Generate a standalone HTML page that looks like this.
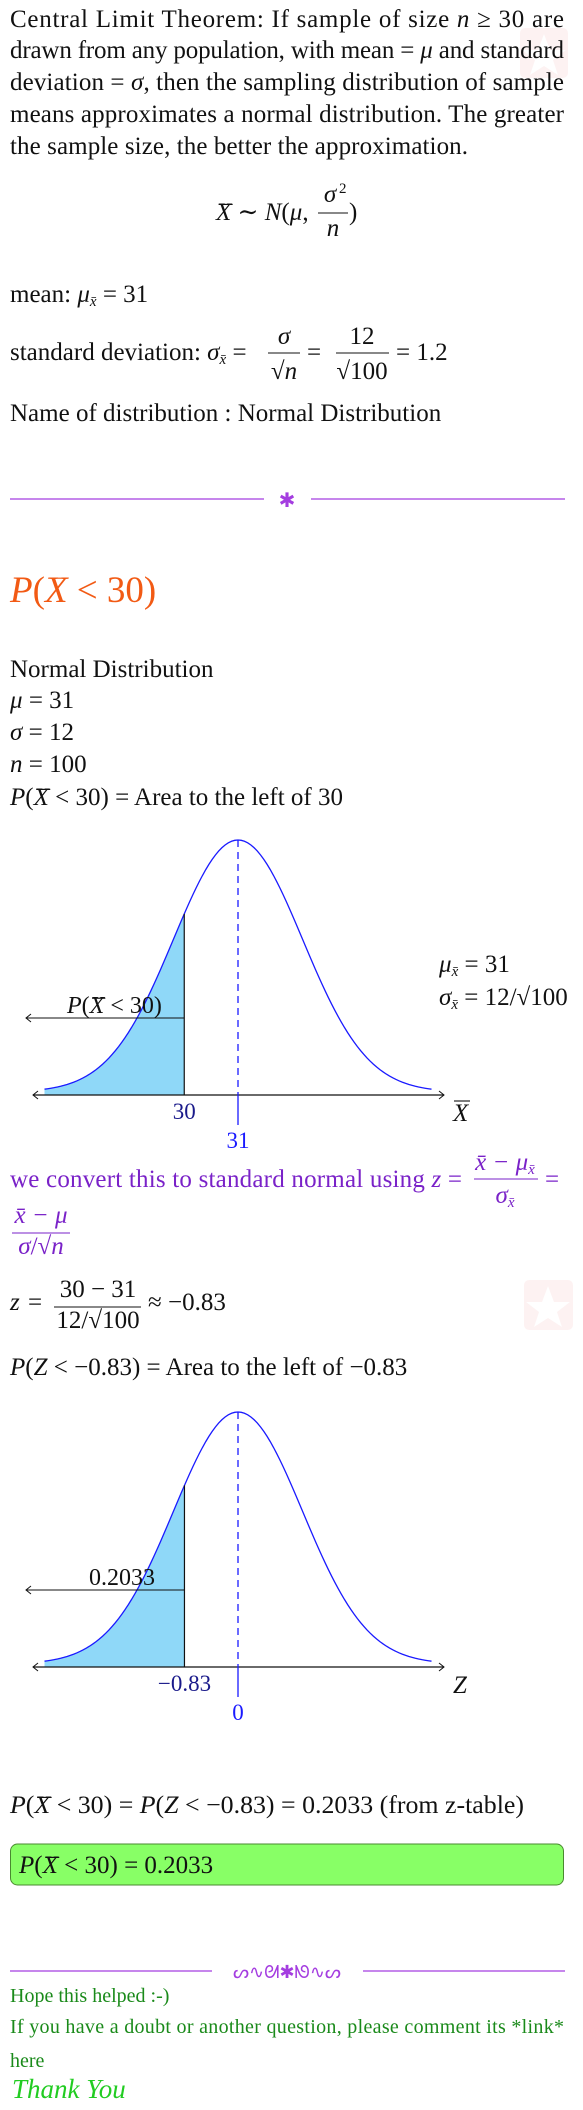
<!DOCTYPE html>
<html><head><meta charset="utf-8"><style>
html,body{margin:0;padding:0;background:#fff;}
svg{display:block;}
text{font-family:"Liberation Serif","DejaVu Serif",serif;}
.i{font-style:italic;}
</style></head><body>
<svg id="page" width="583" height="2110" viewBox="0 0 583 2110" xmlns="http://www.w3.org/2000/svg">
<g opacity="0.5">
<rect x="520" y="28" width="48" height="50" rx="5" fill="#fde6e6"/>
<polygon points="544,34 550,50 566,50 553,60 558,75 544,66 530,75 535,60 522,50 538,50" fill="#fff"/>
</g>
<g opacity="0.5">
<rect x="524" y="1280" width="49" height="50" rx="5" fill="#fde6e6"/>
<polygon points="548,1286 554,1302 570,1302 557,1312 562,1327 548,1318 534,1327 539,1312 526,1302 542,1302" fill="#fff"/>
</g>

<g font-size="25" fill="#111">
<text x="10" y="27" textLength="554" lengthAdjust="spacing">Central Limit Theorem:  If sample of size <tspan class="i">n</tspan> ≥ 30 are</text>
<text x="10" y="58" textLength="554" lengthAdjust="spacing">drawn from any population, with mean = <tspan class="i">μ</tspan> and standard</text>
<text x="10" y="90" textLength="554" lengthAdjust="spacing">deviation = <tspan class="i">σ</tspan>, then the sampling distribution of sample</text>
<text x="10" y="122" textLength="554" lengthAdjust="spacing">means approximates a normal distribution.  The greater</text>
<text x="10" y="154" textLength="458" lengthAdjust="spacing">the sample size, the better the approximation.</text>
</g>

<g font-size="25" fill="#111">
<text x="216" y="220"><tspan class="i ob">X</tspan> ∼ <tspan class="i">N</tspan>(<tspan class="i">μ</tspan>,</text>
<text x="330" y="202" class="i" text-anchor="middle">σ</text><text x="339" y="193" font-size="15">2</text>
<line x1="318" y1="213" x2="348" y2="213" stroke="#111" stroke-width="1"/>
<text x="333" y="236" class="i" text-anchor="middle">n</text>
<text x="349" y="220">)</text>
</g>

<g font-size="25" fill="#111">
<text x="10" y="302">mean:  <tspan class="i">μ</tspan><tspan class="i" font-size="15" dy="4">x̄</tspan><tspan dy="-4"> = 31</tspan></text>
</g>
<g font-size="25" fill="#111">
<text x="10" y="360">standard deviation:  <tspan class="i">σ</tspan><tspan class="i" font-size="15" dy="4">x̄</tspan><tspan dy="-4"> =</tspan></text>
<text x="284" y="344" class="i" text-anchor="middle">σ</text>
<line x1="268" y1="353" x2="300" y2="353" stroke="#111" stroke-width="1"/>
<text x="284" y="379" text-anchor="middle">√<tspan class="i">n</tspan></text>
<text x="307" y="360">=</text>
<text x="362" y="344" text-anchor="middle">12</text>
<line x1="336" y1="353" x2="389" y2="353" stroke="#111" stroke-width="1"/>
<text x="362" y="379" text-anchor="middle">√100</text>
<text x="396" y="360">= 1.2</text>
</g>
<text x="10" y="421" font-size="25" fill="#111">Name of distribution : Normal Distribution</text>

<g>
<line x1="10" y1="499" x2="264" y2="499" stroke="#a43de0" stroke-width="1.3"/>
<line x1="311" y1="499" x2="565" y2="499" stroke="#a43de0" stroke-width="1.3"/>
<text x="287" y="507" font-size="20" fill="#a43de0" text-anchor="middle">✱</text>
</g>

<text x="10" y="602" font-size="37" fill="#f25a14" data-ob="#f25a14"><tspan class="i">P</tspan>(<tspan class="i ob">X</tspan> &lt; 30)</text>

<g font-size="25" fill="#111">
<text x="10" y="677">Normal Distribution</text>
<text x="10" y="708"><tspan class="i">μ</tspan> = 31</text>
<text x="10" y="740"><tspan class="i">σ</tspan> = 12</text>
<text x="10" y="772"><tspan class="i">n</tspan> = 100</text>
<text x="10" y="805"><tspan class="i">P</tspan>(<tspan class="i ob">X</tspan> &lt; 30) = Area to the left of 30</text>
</g>

<g id="chart1"></g>

<g font-size="25" fill="#7a22c8">
<text x="10" y="1187" textLength="452" lengthAdjust="spacing">we convert this to standard normal using <tspan class="i">z</tspan> =</text>
<text x="505" y="1170" class="i" text-anchor="middle">x̄ − μ<tspan font-size="15" dy="4">x̄</tspan></text>
<line x1="474" y1="1179" x2="538" y2="1179" stroke="#7a22c8" stroke-width="1"/>
<text x="505" y="1203" class="i" text-anchor="middle">σ<tspan font-size="15" dy="4">x̄</tspan></text>
<text x="545" y="1187">=</text>
<text x="41" y="1223" class="i" text-anchor="middle">x̄ − μ</text>
<line x1="12" y1="1233" x2="70" y2="1233" stroke="#7a22c8" stroke-width="1"/>
<text x="41" y="1254" text-anchor="middle"><tspan class="i">σ</tspan>/√<tspan class="i">n</tspan></text>
</g>

<g font-size="25" fill="#111">
<text x="10" y="1310" class="i">z</text><text x="28" y="1310">=</text>
<text x="98" y="1297" text-anchor="middle">30 − 31</text>
<line x1="54" y1="1307" x2="141" y2="1307" stroke="#111" stroke-width="1"/>
<text x="98" y="1328" text-anchor="middle">12/√100</text>
<text x="148" y="1310">≈ −0.83</text>
</g>
<text x="10" y="1375" font-size="25" fill="#111"><tspan class="i">P</tspan>(<tspan class="i">Z</tspan> &lt; −0.83) = Area to the left of −0.83</text>

<g id="chart2"></g>

<g font-size="25" fill="#111">
<text x="10" y="1813" textLength="514" lengthAdjust="spacingAndGlyphs"><tspan class="i">P</tspan>(<tspan class="i ob">X</tspan> &lt; 30) = <tspan class="i">P</tspan>(<tspan class="i">Z</tspan> &lt; −0.83) = 0.2033 (from z-table)</text>
</g>
<g>
<rect x="10.5" y="1844" width="553" height="41" rx="7" fill="#88ff66" stroke="#4a8a30" stroke-width="1"/>
<text x="19" y="1873" font-size="25" fill="#111"><tspan class="i">P</tspan>(<tspan class="i ob">X</tspan> &lt; 30) = 0.2033</text>
</g>

<g>
<line x1="10" y1="1971" x2="212" y2="1971" stroke="#a43de0" stroke-width="1.3"/>
<line x1="363" y1="1971" x2="565" y2="1971" stroke="#a43de0" stroke-width="1.3"/>
<text x="287" y="1978" font-size="18" fill="#a43de0" text-anchor="middle">ᔕ∿ᘛ✱ᘚ∿ᔕ</text>
</g>
<g fill="#1a8a1a" font-size="20">
<text x="10" y="2002">Hope this helped  :-)</text>
<text x="10" y="2033" textLength="554" lengthAdjust="spacing">If you have a doubt or another question, please comment its *link*</text>
<text x="10" y="2067">here</text>
<text x="12" y="2098" font-size="27" class="i" fill="#22cc22">Thank You</text>
</g>
</svg>
<script>
// chart parameters
const chart1Params = [31, 1.2, 30];        // mean, sd, cutoff
const chart1Labels = ["30", "31"];
const chart2Params = [0, 1, -0.83];
const chart2Labels = ["−0.83", "0"];
const areaValues = ["0.2033"];

const NS = "http://www.w3.org/2000/svg";
function mk(tag, attrs, parent) {
  const e = document.createElementNS(NS, tag);
  for (const k in attrs) e.setAttribute(k, attrs[k]);
  parent.appendChild(e);
  return e;
}
function drawChart(g, params, labels, top, axisLabel, areaLabel) {
  const mean = params[0], sd = params[1], cut = params[2];
  const cx = 238, pxPerSd = 64.5, base = top + 252, h = 252;
  const xs = v => cx + (v - mean) / sd * pxPerSd;
  const ys = v => base - h * Math.exp(-0.5 * Math.pow((v - mean) / sd, 2));
  let pts = [];
  for (let i = 0; i <= 120; i++) {
    const v = mean - 3 * sd + i * 6 * sd / 120;
    pts.push([xs(v), ys(v)]);
  }
  let fill = [[xs(mean - 3 * sd), base + 3]];
  pts.forEach(p => { if (p[0] <= xs(cut)) fill.push(p); });
  fill.push([xs(cut), ys(cut)], [xs(cut), base + 3]);
  const area = mk("polygon", {points: fill.map(p => p.join(",")).join(" "), fill: "#8fd8f8"}, g);
  
  
  const curve = mk("polyline", {points: pts.map(p => p.join(",")).join(" "), fill: "none", stroke: "#1a1aff", "stroke-width": 1.3}, g);
  
  
  const cutLine = mk("line", {x1: xs(cut), y1: ys(cut), x2: xs(cut), y2: base + 3, stroke: "#111", "stroke-width": 1.2}, g);
  
  
  const ax = base + 3;
  const axis = mk("line", {x1: 33, y1: ax, x2: 444, y2: ax, stroke: "#111", "stroke-width": 1.2}, g);
  
  
  const arr = mk("path", {d: `M38,${ax-4} L33,${ax} L38,${ax+4} M439,${ax-4} L444,${ax} L439,${ax+4}`, fill: "none", stroke: "#111", "stroke-width": 1}, g);
  
  
  const dash = mk("line", {x1: xs(mean), y1: ys(mean), x2: xs(mean), y2: ax, stroke: "#1a1aff", "stroke-width": 1.3, "stroke-dasharray": "7,5"}, g);
  
  
  const tick = mk("line", {x1: xs(mean), y1: ax, x2: xs(mean), y2: ax + 30, stroke: "#1a1aff", "stroke-width": 1.3}, g);
  
  
  const ay = top + 178;
  const pArr = mk("path", {d: `M26,${ay} L${xs(cut)},${ay} M31,${ay-4} L26,${ay} L31,${ay+4}`, fill: "none", stroke: "#111", "stroke-width": 1}, g);
  
  
  const t1 = mk("text", {x: xs(cut), y: ax + 24, "font-size": 23, fill: "#1a1a8a", "text-anchor": "middle"}, g);
  t1.textContent = labels[0];
  
  
  const t2 = mk("text", {x: xs(mean), y: ax + 53, "font-size": 23, fill: "#1a1aff", "text-anchor": "middle"}, g);
  t2.textContent = labels[1];
  
  
  const t3 = mk("text", {x: 453, y: ax + 26, "font-size": 25, fill: "#111", "font-style": "italic"}, g);
  t3.textContent = axisLabel;
  
  
  if (axisLabel === "X") mk("line", {x1: 454, y1: ax + 6, x2: 470, y2: ax + 6, stroke: "#111", "stroke-width": 1.1}, g);
  const t4 = mk("text", {x: areaLabel.x, y: ay - 5, "font-size": 24, fill: "#111"}, g);
  t4.innerHTML = areaLabel.html;
  
  
}
const g1 = document.getElementById("chart1");
drawChart(g1, chart1Params, chart1Labels, 840, "X", {x: 67, html: '<tspan font-style="italic">P</tspan>(<tspan font-style="italic" class="ob">X</tspan> &lt; 30)'});
const sideLbl = mk("text", {x: 439, y: 972, "font-size": 25, fill: "#111"}, g1);
sideLbl.innerHTML = '<tspan font-style="italic">μ</tspan><tspan font-style="italic" font-size="15" dy="4">x̄</tspan><tspan dy="-4"> = 31</tspan>';


const sideLbl2 = mk("text", {x: 439, y: 1005, "font-size": 25, fill: "#111"}, g1);
sideLbl2.innerHTML = '<tspan font-style="italic">σ</tspan><tspan font-style="italic" font-size="15" dy="4">x̄</tspan><tspan dy="-4"> = 12/√100</tspan>';


const g2 = document.getElementById("chart2");
drawChart(g2, chart2Params, chart2Labels, 1412, "Z", {x: 89, html: areaValues[0]});

// overbars for X-bar symbols
const svg = document.getElementById("page");
document.querySelectorAll("tspan.ob").forEach(ts => {
  try {
    const b = ts.getBBox();
    const txt = ts.closest("text");
    const col = txt.getAttribute("data-ob") || txt.getAttribute("fill") || (txt.parentNode.getAttribute && txt.parentNode.getAttribute("fill")) || "#111";
    const l = mk("line", {x1: b.x + b.width * 0.2, y1: b.y + b.height * 0.2, x2: b.x + b.width * 0.98, y2: b.y + b.height * 0.2, stroke: col, "stroke-width": 1.2}, svg);
    
    
  } catch (e) {}
});
</script>
</body></html>
